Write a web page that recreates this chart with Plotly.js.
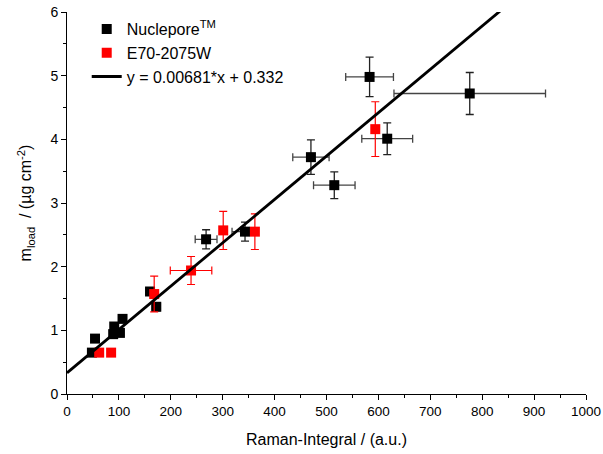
<!DOCTYPE html>
<html>
<head>
<meta charset="utf-8">
<script src="https://cdn.plot.ly/plotly-3.0.1.min.js"></script>
<style>html,body{margin:0;padding:0;background:#fff;}#chart{width:603px;height:454px;}</style>
</head>
<body>
<div id="chart"></div>
<script>
// Nuclepore series
const nucX    = [48, 54, 89, 91, 102, 107, 160, 172, 268, 343, 470, 515, 583, 617, 776];
const nucY    = [0.65, 0.87, 0.94, 1.06, 0.96, 1.18, 1.61, 1.37, 2.43, 2.55, 3.72, 3.28, 4.98, 4.01, 4.72];
const nucXErr = [3, 3, 6, 6, 6, 6, 8, 8, 21, 25, 35, 40, 46, 49, 146];
const nucYErr = [0.03, 0.03, 0.06, 0.06, 0.06, 0.06, 0.06, 0.06, 0.15, 0.15, 0.27, 0.21, 0.31, 0.25, 0.33];

// E70-2075W series
const e70X    = [62, 85, 168, 239, 301, 362, 594];
const e70Y    = [0.65, 0.65, 1.57, 1.94, 2.57, 2.55, 4.16];
const e70XErr = [2, 2, 4, 40, 3, 3, 3];
const e70YErr = [0.04, 0.02, 0.28, 0.22, 0.30, 0.28, 0.43];

// Linear fit y = 0.00681*x + 0.332
const fitSlope = 0.00681;
const fitIntercept = 0.332;
const fitXRange = [0, 1000];
const fitY = fitXRange.map(x => fitSlope * x + fitIntercept);

const xTicks = [0, 100, 200, 300, 400, 500, 600, 700, 800, 900, 1000];
const yTicks = [0, 1, 2, 3, 4, 5, 6];

const traces = [
  {
    x: nucX, y: nucY, type: 'scatter', mode: 'markers', name: 'Nuclepore<sup>TM</sup>',
    marker: {symbol: 'square', size: 10, color: '#000'},
    error_x: {type: 'data', array: nucXErr, visible: true, color: '#444', thickness: 1.3, width: 4},
    error_y: {type: 'data', array: nucYErr, visible: true, color: '#222', thickness: 1.3, width: 4}
  },
  {
    x: e70X, y: e70Y, type: 'scatter', mode: 'markers', name: 'E70-2075W',
    marker: {symbol: 'square', size: 10, color: '#ff0000'},
    error_x: {type: 'data', array: e70XErr, visible: true, color: '#ff0000', thickness: 1.2, width: 4},
    error_y: {type: 'data', array: e70YErr, visible: true, color: '#ff0000', thickness: 1.2, width: 4}
  },
  {
    x: fitXRange, y: fitY, type: 'scatter', mode: 'lines', name: 'y = 0.00681*x + 0.332',
    line: {color: '#000', width: 2.8}
  }
];

const layout = {
  width: 603, height: 454,
  margin: {l: 67, r: 17, t: 12, b: 60},
  paper_bgcolor: '#fff', plot_bgcolor: '#fff',
  font: {family: 'Liberation Sans, Arial, sans-serif', color: '#000', size: 13},
  showlegend: true,
  legend: {
    x: 0.038, y: 1.0, xanchor: 'left', yanchor: 'top',
    bgcolor: 'rgba(0,0,0,0)', borderwidth: 0,
    font: {size: 16, family: 'Liberation Sans, Arial, sans-serif'},
    tracegroupgap: 0
  },
  xaxis: {
    range: [0, 1000], tickvals: xTicks, ticktext: xTicks.map(String),
    showgrid: false, zeroline: false, showline: true, linecolor: '#000', linewidth: 1,
    ticks: 'outside', ticklen: 5, tickcolor: '#000', tickwidth: 1,
    minor: {ticks: 'outside', dtick: 50, ticklen: 3, tickcolor: '#000', showgrid: false},
    tickfont: {size: 13.5},
    title: {text: 'Raman-Integral / (a.u.)', font: {size: 16}, standoff: 15}
  },
  yaxis: {
    range: [0, 6], tickvals: yTicks, ticktext: yTicks.map(String),
    showgrid: false, zeroline: false, showline: true, linecolor: '#000', linewidth: 1,
    ticks: 'outside', ticklen: 5, tickcolor: '#000', tickwidth: 1,
    minor: {ticks: 'outside', dtick: 0.5, ticklen: 3, tickcolor: '#000', showgrid: false},
    tickfont: {size: 14},
    title: {text: 'm<sub>load</sub>  / (µg cm<sup>-2</sup>)', font: {size: 16}, standoff: 14}
  }
};

Plotly.newPlot('chart', traces, layout, {displayModeBar: false, staticPlot: true});
</script>
</body>
</html>
